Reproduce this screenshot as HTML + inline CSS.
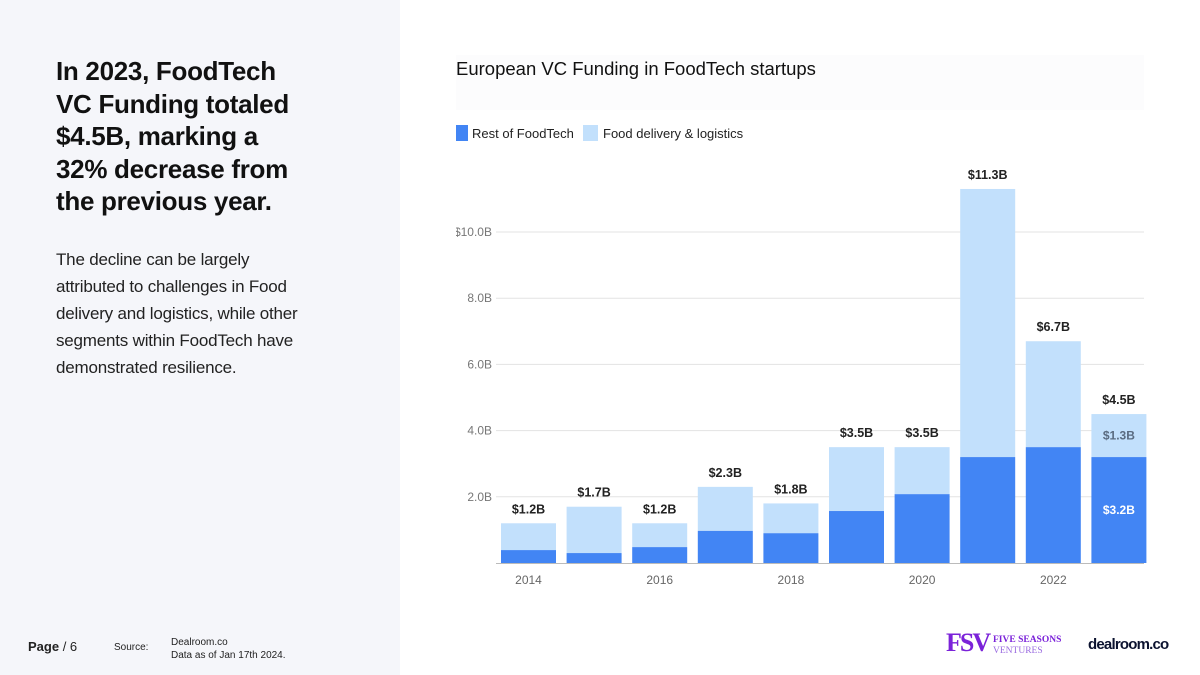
<!DOCTYPE html>
<html><head><meta charset="utf-8"><style>
body{margin:0;width:1200px;height:675px;overflow:hidden;background:#fff;font-family:"Liberation Sans",sans-serif;position:relative}
#left{position:absolute;left:0;top:0;width:400px;height:675px;background:#f5f6fa}
h1{position:absolute;left:56px;top:55px;margin:0;font-size:26px;line-height:32.5px;font-weight:bold;color:#111;width:330px;letter-spacing:-0.3px;white-space:nowrap}
p.body{position:absolute;left:56px;top:246px;margin:0;font-size:17px;line-height:27px;color:#222;width:330px;white-space:nowrap;letter-spacing:-0.2px}
.foot{position:absolute;font-size:10px;color:#222}
</style></head><body>
<div id="left"></div>
<h1>In 2023, FoodTech<br>VC Funding totaled<br>$4.5B, marking a<br>32% decrease from<br>the previous year.</h1>
<p class="body">The decline can be largely<br>attributed to challenges in Food<br>delivery and logistics, while other<br>segments within FoodTech have<br>demonstrated resilience.</p>
<div class="foot" style="left:28px;top:639px;font-size:13px"><b>Page</b> / 6</div>
<div class="foot" style="left:114px;top:642px">Source:</div>
<div class="foot" style="left:171px;top:636px;line-height:13px">Dealroom.co<br>Data as of Jan 17th 2024.</div>
<div style="position:absolute;left:946px;top:629px;font-family:'Liberation Serif',serif;font-weight:bold;color:#7b22d9;font-size:26px;line-height:28px;letter-spacing:-2px">FSV</div>
<div style="position:absolute;left:993px;top:635px;font-family:'Liberation Serif',serif;color:#7b22d9;font-size:9.5px;line-height:11px;font-weight:bold">FIVE SEASONS<br><span style="color:#9a6be0;font-weight:normal">VENTURES</span></div>
<div style="position:absolute;left:1088px;top:636px;font-weight:bold;font-size:15px;color:#0c1330;letter-spacing:-0.8px">dealroom.co</div>
<svg id="chart" width="1200" height="675" style="position:absolute;left:0;top:0">
<defs><clipPath id="cp"><rect x="456" y="0" width="744" height="675"/></clipPath></defs>
<rect x="456" y="55" width="688" height="55" fill="#fcfcfd"/>
<text x="456" y="75" font-size="18.5" fill="#111">European VC Funding in FoodTech startups</text>
<rect x="456" y="125" width="12" height="16" fill="#4285f4"/>
<text x="472" y="138" font-size="13" fill="#222">Rest of FoodTech</text>
<rect x="583" y="125" width="15" height="16" fill="#c2e0fc"/>
<text x="603" y="138" font-size="13" fill="#222">Food delivery &amp; logistics</text>
<g id="g" clip-path="url(#cp)"></g>
</svg>
<script>
const years=[2014,2015,2016,2017,2018,2019,2020,2021,2022,2023];
const rest=[0.39,0.3,0.48,0.97,0.9,1.57,2.08,3.2,3.5,3.2];
const totals=[1.2,1.7,1.2,2.3,1.8,3.5,3.5,11.3,6.7,4.5];
const totalLabels=["$1.2B","$1.7B","$1.2B","$2.3B","$1.8B","$3.5B","$3.5B","$11.3B","$6.7B","$4.5B"];
const yTicks=[2,4,6,8,10];
const yTickLabels=["2.0B","4.0B","6.0B","8.0B","$10.0B"];
const NS="http://www.w3.org/2000/svg",g=document.getElementById('g');
const y=v=>563-v*33.1, xc=i=>528.5+i*65.6, bw=55;
function el(t,a,txt){const e=document.createElementNS(NS,t);for(const k in a)e.setAttribute(k,a[k]);if(txt!=null)e.textContent=txt;g.appendChild(e);return e;}
yTicks.forEach((t,i)=>{
 const l=el('line',{x1:496,x2:1144,y1:y(t),y2:y(t),stroke:'#e3e3e3'});
 
 
 const tx=el('text',{x:492,y:y(t)+4,'text-anchor':'end','font-size':12,fill:'#777'},yTickLabels[i]);
 
 
});
const ax=el('line',{x1:496,x2:1144,y1:563.5,y2:563.5,stroke:'#bbb'});


years.forEach((yr,i)=>{
 const x=xc(i)-bw/2;
 const d=el('rect',{x:x,y:y(totals[i]),width:bw,height:y(rest[i])-y(totals[i]),fill:'#c2e0fc'});
 
 
 const r=el('rect',{x:x,y:y(rest[i]),width:bw,height:563-y(rest[i]),fill:'#4285f4'});
 
 
 const lb=el('text',{x:xc(i),y:y(totals[i])-10,'text-anchor':'middle','font-size':12.5,'font-weight':'bold',fill:'#222'},totalLabels[i]);
 
 
 if(i%2===0){
  const xl=el('text',{x:xc(i),y:584,'text-anchor':'middle','font-size':12,fill:'#666'},yr);
  
  
 }
 if(i===years.length-1){
  const a=el('text',{x:xc(i),y:(y(totals[i])+y(rest[i]))/2+4,'text-anchor':'middle','font-size':12,'font-weight':'bold',fill:'#5a6b80'},'$'+(totals[i]-rest[i]).toFixed(1)+'B');
  
  
  const b=el('text',{x:xc(i),y:(y(rest[i])+563)/2+4,'text-anchor':'middle','font-size':12,'font-weight':'bold',fill:'#fff'},'$'+rest[i].toFixed(1)+'B');
  
  
 }
});
</script>
</body></html>
